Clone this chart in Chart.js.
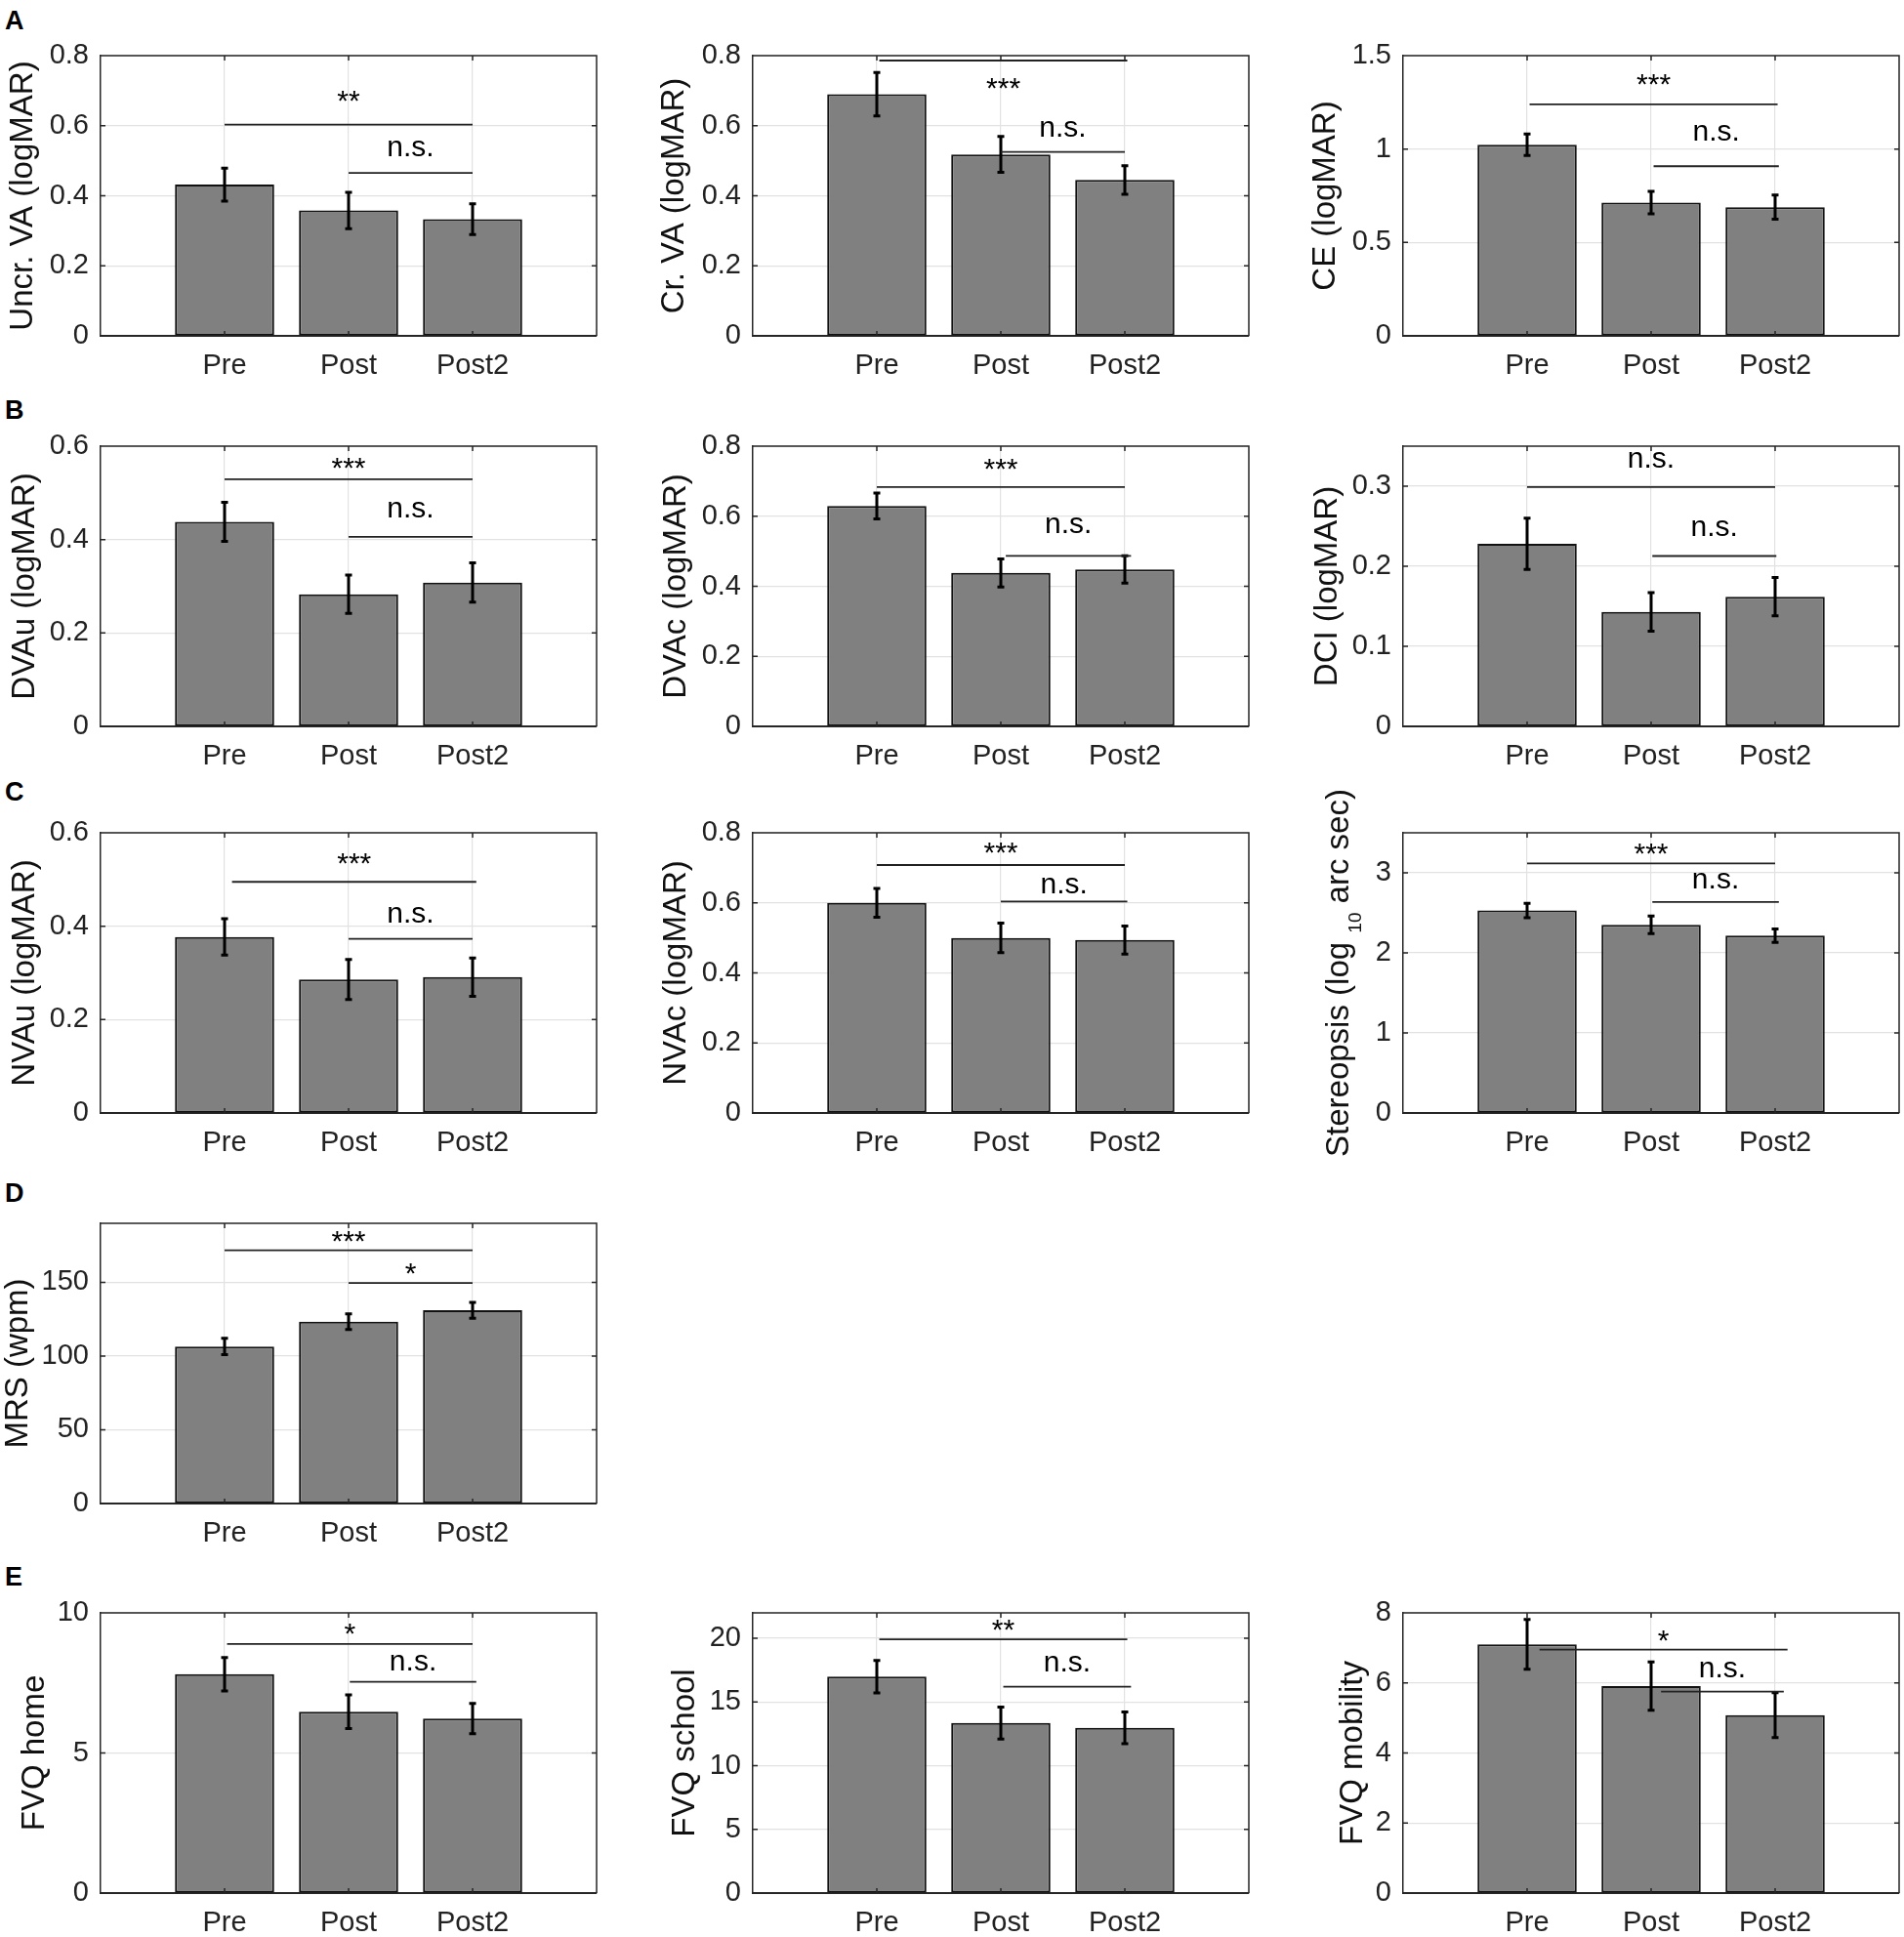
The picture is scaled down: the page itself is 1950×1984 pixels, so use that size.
<!DOCTYPE html>
<html>
<head>
<meta charset="utf-8">
<script src="https://cdn.jsdelivr.net/npm/chart.js@4.4.1/dist/chart.umd.min.js"></script>
<style>
  html, body { margin: 0; padding: 0; background: #fff; }
  #fig { position: relative; width: 1950px; height: 1984px; overflow: hidden; background: #fff; }
  #fig canvas { position: absolute; }
  .tag { position: absolute; font: bold 27px "Liberation Sans", Arial, sans-serif; line-height: 27px; color: #000; }
</style>
</head>
<body>
<div id="fig"></div>
<script>
/*=================================
      data
=================================*/
const categories = ["Pre", "Post", "Post2"];

const uncrVA = [0.432, 0.358, 0.333];
const uncrVAErr = [0.047, 0.052, 0.044];
const crVA = [0.690, 0.518, 0.445];
const crVAErr = [0.062, 0.051, 0.041];
const ce = [1.023, 0.713, 0.689];
const ceErr = [0.058, 0.060, 0.065];

const dvau = [0.438, 0.283, 0.308];
const dvauErr = [0.042, 0.041, 0.042];
const dvac = [0.629, 0.438, 0.448];
const dvacErr = [0.037, 0.040, 0.039];
const dci = [0.228, 0.143, 0.162];
const dciErr = [0.032, 0.024, 0.024];

const nvau = [0.377, 0.286, 0.291];
const nvauErr = [0.039, 0.043, 0.041];
const nvac = [0.600, 0.500, 0.494];
const nvacErr = [0.041, 0.042, 0.040];
const stereo = [2.53, 2.35, 2.215];
const stereoErr = [0.09, 0.11, 0.085];

const mrs = [106.5, 123.3, 131.0];
const mrsErr = [5.5, 5.3, 5.3];

const fvqHome = [7.81, 6.47, 6.23];
const fvqHomeErr = [0.60, 0.60, 0.54];
const fvqSchool = [16.99, 13.35, 12.97];
const fvqSchoolErr = [1.27, 1.25, 1.24];
const fvqMobility = [7.10, 5.91, 5.08];
const fvqMobilityErr = [0.71, 0.69, 0.64];

// significance, Pre vs Post2 and Post vs Post2, panel order A..E
const sigPrePost2 = ["**", "***", "***", "***", "***", "n.s.", "***", "***", "***", "***", "*", "**", "*"];
const sigPostPost2 = ["n.s.", "n.s.", "n.s.", "n.s.", "n.s.", "n.s.", "n.s.", "n.s.", "n.s.", "*", "n.s.", "n.s.", "n.s."];

const panelTags = ["A", "B", "C", "D", "E"];

/*=================================
      layout
=================================*/
const colX = [103, 771, 1437];
const rowY = [57, 457, 853, 1253, 1652];
const tagBase = [31, 430, 821, 1232, 1625];
const plotW = 508, plotH = 287;
const padL = 110, padT = 45, padR = 5, padB = 60;
const FONT = '"Liberation Sans", Arial, sans-serif';

// bracket: [x1, x2, line y, text baseline y]
const panels = [
  { col: 0, row: 0, title: ["Uncr. VA (logMAR)"], mean: uncrVA, err: uncrVAErr, yMax: 0.8, step: 0.2, gap: 70,
    br: [[1, 3, 0.603, 0.645], [2, 3, 0.465, 0.514]] },
  { col: 1, row: 0, title: ["Cr. VA (logMAR)"], mean: crVA, err: crVAErr, yMax: 0.8, step: 0.2, gap: 71,
    br: [[1.02, 3.02, 0.786, 0.681], [2, 3, 0.525, 0.570]] },
  { col: 2, row: 0, title: ["CE (logMAR)"], mean: ce, err: ceErr, yMax: 1.5, step: 0.5, gap: 70,
    br: [[1.02, 3.02, 1.239, 1.296], [2.02, 3.03, 0.908, 1.047]] },
  { col: 0, row: 1, title: ["DVAu (logMAR)"], mean: dvau, err: dvauErr, yMax: 0.6, step: 0.2, gap: 68,
    br: [[1, 3, 0.529, 0.533], [2, 3, 0.406, 0.4475]] },
  { col: 1, row: 1, title: ["DVAc (logMAR)"], mean: dvac, err: dvacErr, yMax: 0.8, step: 0.2, gap: 69,
    br: [[1, 3, 0.683, 0.708], [2.04, 3.05, 0.487, 0.553]] },
  { col: 2, row: 1, title: ["DCI (logMAR)"], mean: dci, err: dciErr, yMax: 0.35, step: 0.1, gap: 68,
    br: [[1, 3, 0.299, 0.3234], [2.01, 3.01, 0.2128, 0.2377]] },
  { col: 0, row: 2, title: ["NVAu (logMAR)"], mean: nvau, err: nvauErr, yMax: 0.6, step: 0.2, gap: 68,
    br: [[1.06, 3.03, 0.495, 0.515], [2, 3, 0.373, 0.407]] },
  { col: 1, row: 2, title: ["NVAc (logMAR)"], mean: nvac, err: nvacErr, yMax: 0.8, step: 0.2, gap: 69,
    br: [[1, 3, 0.708, 0.717], [2, 3.02, 0.604, 0.626]] },
  { col: 2, row: 2, title: ["Stereopsis (log ", "10", " arc sec)"], mean: stereo, err: stereoErr, yMax: 3.5, step: 1, gap: 56,
    br: [[1, 3, 3.117, 3.12], [2.01, 3.03, 2.636, 2.806]] },
  { col: 0, row: 3, title: ["MRS (wpm)"], mean: mrs, err: mrsErr, yMax: 190, step: 50, gap: 75,
    br: [[1, 3, 171.7, 171.5], [2, 3, 149.6, 149.8]] },
  { col: 0, row: 4, title: ["FVQ home"], mean: fvqHome, err: fvqHomeErr, yMax: 10, step: 5, gap: 58,
    br: [[1.02, 3.0, 8.89, 8.93], [2.01, 3.03, 7.54, 7.94]] },
  { col: 1, row: 4, title: ["FVQ school"], mean: fvqSchool, err: fvqSchoolErr, yMax: 22, step: 5, gap: 60,
    br: [[1.02, 3.02, 19.92, 19.9], [2.02, 3.05, 16.2, 17.38]] },
  { col: 2, row: 4, title: ["FVQ mobility"], mean: fvqMobility, err: fvqMobilityErr, yMax: 8, step: 2, gap: 42,
    br: [[1.1, 3.1, 6.95, 6.94], [2.08, 3.07, 5.75, 6.17]] },
];

const fig = document.getElementById("fig");

panelTags.forEach((t, r) => {
  const d = document.createElement("div");
  d.className = "tag";
  d.textContent = t;
  d.style.left = "5px";
  d.style.top = (tagBase[r] - 22.8) + "px";
  fig.appendChild(d);
});

/*=================================
      error bars, brackets, box
=================================*/
function annotate(p, k) {
  return {
    id: "annot" + k,
    afterDatasetsDraw(chart) {
      const { ctx, chartArea: a, scales: { x, y } } = chart;
      ctx.save();

      // box top/right and inward ticks
      ctx.strokeStyle = "#262626";
      ctx.lineWidth = 1.5;
      ctx.beginPath();
      ctx.moveTo(a.left, a.top); ctx.lineTo(a.right, a.top); ctx.lineTo(a.right, a.bottom);
      y.ticks.forEach((t) => {
        const py = y.getPixelForValue(t.value);
        ctx.moveTo(a.left, py); ctx.lineTo(a.left + 5, py);
        ctx.moveTo(a.right, py); ctx.lineTo(a.right - 5, py);
      });
      x.ticks.forEach((t) => {
        const px = x.getPixelForValue(t.value);
        ctx.moveTo(px, a.bottom); ctx.lineTo(px, a.bottom - 5);
        ctx.moveTo(px, a.top); ctx.lineTo(px, a.top + 5);
      });
      ctx.stroke();

      // error bars
      ctx.strokeStyle = "#000";
      ctx.lineWidth = 3;
      p.mean.forEach((m, i) => {
        const px = x.getPixelForValue(i + 1);
        const lo = y.getPixelForValue(m - p.err[i]);
        const hi = y.getPixelForValue(m + p.err[i]);
        ctx.beginPath();
        ctx.moveTo(px, lo); ctx.lineTo(px, hi);
        ctx.moveTo(px - 3.5, lo); ctx.lineTo(px + 3.5, lo);
        ctx.moveTo(px - 3.5, hi); ctx.lineTo(px + 3.5, hi);
        ctx.stroke();
      });

      // significance brackets
      const labels = [sigPrePost2[k], sigPostPost2[k]];
      ctx.strokeStyle = "#222";
      ctx.lineWidth = 1.8;
      ctx.fillStyle = "#000";
      ctx.font = "30px " + FONT;
      ctx.textAlign = "center";
      ctx.textBaseline = "alphabetic";
      p.br.forEach((b, j) => {
        const py = y.getPixelForValue(b[2]);
        ctx.beginPath();
        ctx.moveTo(x.getPixelForValue(b[0]), py);
        ctx.lineTo(x.getPixelForValue(b[1]), py);
        ctx.stroke();
        ctx.fillText(labels[j], x.getPixelForValue((b[0] + b[1]) / 2), y.getPixelForValue(b[3]));
      });
      ctx.restore();
    },
    afterDraw(chart) {
      // y axis title, possibly with a subscript part
      const { ctx, chartArea: a } = chart;
      const parts = p.title.map((t, i) => ({ t, size: i === 1 ? 19 : 33, dy: i === 1 ? 13 : 0 }));
      ctx.save();
      let total = 0;
      parts.forEach((q) => { ctx.font = q.size + "px " + FONT; q.w = ctx.measureText(q.t).width; total += q.w; });
      ctx.translate(a.left - p.gap, (a.top + a.bottom) / 2);
      ctx.rotate(-Math.PI / 2);
      ctx.fillStyle = "#111";
      ctx.textAlign = "left";
      ctx.textBaseline = "alphabetic";
      let cx = -total / 2;
      parts.forEach((q) => {
        ctx.font = q.size + "px " + FONT;
        ctx.fillText(q.t, cx, q.dy);
        cx += q.w;
      });
      ctx.restore();
    },
  };
}

/*=================================
      one chart per panel
=================================*/
panels.forEach((p, k) => {
  const cv = document.createElement("canvas");
  const w = padL + plotW + padR, h = padT + plotH + padB;
  cv.width = w; cv.height = h;
  cv.style.width = w + "px"; cv.style.height = h + "px";
  cv.style.left = (colX[p.col] - padL) + "px";
  cv.style.top = (rowY[p.row] - padT) + "px";
  fig.appendChild(cv);

  new Chart(cv, {
    type: "bar",
    data: {
      datasets: [{
        data: p.mean.map((v, i) => ({ x: i + 1, y: v })),
        backgroundColor: "#808080",
        borderColor: "#111",
        borderWidth: 2,
        borderSkipped: false,
        barPercentage: 0.8,
        categoryPercentage: 1.0,
      }],
    },
    options: {
      responsive: false,
      animation: false,
      devicePixelRatio: 1,
      layout: { padding: { left: 0, top: padT, right: padR, bottom: 0 } },
      plugins: { legend: { display: false }, tooltip: { enabled: false } },
      scales: {
        x: {
          type: "linear",
          min: 0,
          max: 4,
          offset: false,
          afterBuildTicks: (s) => { s.ticks = categories.map((c, i) => ({ value: i + 1 })); },
          afterFit: (s) => { s.height = padB; },
          grid: { color: "#e2e2e2", lineWidth: 1.2, drawTicks: false, offset: false },
          border: { display: true, color: "#262626", width: 2 },
          ticks: {
            padding: 14,
            color: "#222",
            font: { size: 29, family: FONT },
            callback: (v) => categories[v - 1],
          },
        },
        y: {
          min: 0,
          max: p.yMax,
          afterFit: (s) => { s.width = padL; },
          grid: { color: "#e2e2e2", lineWidth: 1.2, drawTicks: false },
          border: { display: true, color: "#262626", width: 1.5 },
          ticks: {
            stepSize: p.step,
            includeBounds: false,
            padding: 12,
            color: "#222",
            font: { size: 29, family: FONT },
            callback: (v) => String(+v.toFixed(2)),
          },
        },
      },
    },
    plugins: [annotate(p, k)],
  });
});
</script>
</body>
</html>
